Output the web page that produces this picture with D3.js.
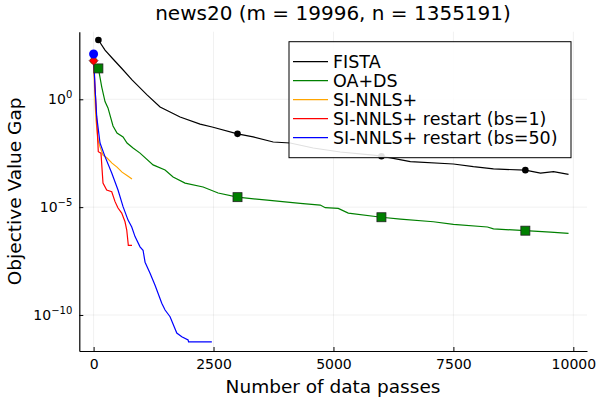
<!DOCTYPE html>
<html lang="en">
<head>
  <meta charset="utf-8">
  <title>news20</title>
  <script src="https://d3js.org/d3.v7.min.js"></script>
  <style>
    body { margin: 0; background: #fff; }
    text { font-family: "DejaVu Sans", sans-serif; fill: #000; }
  </style>
</head>
<body>
<script type="text/javascript">

// data (x = data passes, y = objective value gap)
var fistaX = [100, 238, 405, 593, 801, 1114, 1386, 1803, 2220, 2471, 3000, 3326, 3744, 4098, 4578, 5142, 5830, 6000, 6603, 7500, 7917, 8335, 9000, 9316, 9587, 9900];
var fistaY = [5.6e2, 1.9e2, 74, 26, 7.9, 1.6, 0.44, 0.15, 0.071, 0.052, 0.025, 0.018, 0.0105, 0.0094, 0.0055, 0.0036, 0.0026, 0.0023, 0.0013, 0.0010, 7.5e-4, 5.9e-4, 5.2e-4, 3.8e-4, 4.4e-4, 3.3e-4];

var oadsX = [100, 169, 238, 300, 405, 488, 614, 697, 822, 968, 1240, 1490, 1657, 1907, 2283, 2596, 3000, 3619, 4307, 4725, 4829, 5100, 5309, 6000, 6395, 7083, 7500, 8210, 8335, 9000, 9524, 9900];
var oadsY = [27, 3.8, 0.78, 0.40, 0.058, 0.027, 0.018, 0.0094, 0.0055, 0.0032, 9.1e-4, 5.3e-4, 2.5e-4, 1.3e-4, 8.6e-5, 4.5e-5, 2.9e-5, 2.1e-5, 1.5e-5, 1.25e-5, 9.4e-6, 8.8e-6, 5.3e-6, 3.4e-6, 2.8e-6, 2.1e-6, 1.6e-6, 1.2e-6, 9.8e-7, 8.1e-7, 7.0e-7, 6.1e-7];

var sinnlsX = [0, 29, 50, 92, 134, 196, 280, 384, 488, 593, 697, 800];
var sinnlsY = [62, 0.93, 0.11, 0.013, 0.0062, 0.0026, 0.0019, 0.0011, 7.2e-4, 4.2e-4, 2.9e-4, 2.0e-4];

var bs1X = [0, 29, 65, 98, 154, 196, 273, 378, 447, 509, 586, 655, 691, 724, 800];
var bs1Y = [62, 3.8, 0.11, 0.0037, 0.0032, 1.3e-4, 6.2e-5, 5.2e-5, 1.8e-5, 9.1e-6, 5.3e-6, 2.1e-6, 8.7e-7, 1.7e-7, 1.7e-7];

var bs50X = [0, 29, 65, 134, 238, 378, 509, 614, 718, 795, 864, 968, 1031, 1073, 1177, 1281, 1421, 1490, 1594, 1734, 1838, 1970, 1980, 2465];
var bs50Y = [126, 3.8, 0.156, 0.0094, 0.0022, 3.8e-4, 6.2e-5, 1.05e-5, 2.5e-6, 1.2e-6, 4.3e-7, 1.45e-7, 1.0e-7, 2.8e-8, 8.7e-9, 2.4e-9, 3.5e-10, 1.7e-10, 8.3e-11, 1.45e-11, 9.8e-12, 6.9e-12, 5.7e-12, 5.7e-12];

var seriesNames = ["FISTA", "OA+DS", "SI-NNLS+", "SI-NNLS+ restart (bs=1)", "SI-NNLS+ restart (bs=50)"];
var seriesColors = ["#000000", "#008000", "#ffa500", "#ff0000", "#0000ff"];
var markerEvery = 3000;

var xTicks = [0, 2500, 5000, 7500, 10000];
var yTicks = [1e0, 1e-5, 1e-10];
var yTickExp = ["0", "\u22125", "\u221210"];

var svg_width = 600;
var svg_height = 400;
var pLeft = 79.3, pRight = 587, pTop = 31.7, pBottom = 351;

var svg = d3.select("body")
			.append("svg")
			.attr("width", svg_width)
			.attr("height", svg_height);

var x = d3.scaleLinear().domain([-298, 10285]).range([pLeft, pRight]);
var y = d3.scaleLog().domain([Math.pow(10, -11.67), Math.pow(10, 3.134)]).range([pBottom, pTop]);

// grid
svg.selectAll("line.gx")
   .data(xTicks)
   .enter()
	   .append("line")
	   .attr("x1", function(d) { return x(d); })
	   .attr("x2", function(d) { return x(d); })
	   .attr("y1", pTop)
	   .attr("y2", pBottom)
	   .attr("stroke", "#000")
	   .attr("stroke-opacity", 0.1)
	   .attr("stroke-width", 0.6);

svg.selectAll("line.gy")
   .data(yTicks)
   .enter()
	   .append("line")
	   .attr("x1", pLeft)
	   .attr("x2", pRight)
	   .attr("y1", function(d) { return y(d); })
	   .attr("y2", function(d) { return y(d); })
	   .attr("stroke", "#000")
	   .attr("stroke-opacity", 0.1)
	   .attr("stroke-width", 0.6);

// axes
var xAxis = d3.axisBottom(x).tickValues(xTicks).tickFormat(d3.format("d"))
	.tickSizeInner(-4).tickSizeOuter(0).tickPadding(8);
var gx = svg.append("g").attr("transform", "translate(0," + pBottom + ")").call(xAxis);
gx.selectAll("text").attr("font-size", "14px").attr("font-family", "DejaVu Sans");

var yAxis = d3.axisLeft(y).tickValues(yTicks).tickSizeInner(-4).tickSizeOuter(0).tickFormat("");
var gy = svg.append("g").attr("transform", "translate(" + pLeft + ",0)").call(yAxis);
gy.select(".domain").attr("stroke-width", 1.2);
gx.select(".domain").attr("stroke-width", 1.2);

yTicks.forEach(function(t, i) {
	var lab = svg.append("text")
		.attr("x", pLeft - 7)
		.attr("y", y(t) + 5)
		.attr("text-anchor", "end")
		.attr("font-size", "14px");
	lab.append("tspan").text("10");
	lab.append("tspan").text(yTickExp[i]).attr("font-size", "10px").attr("dy", -6);
});

// series
svg.append("clipPath").attr("id", "clip")
	.append("rect").attr("x", pLeft).attr("y", pTop).attr("width", pRight - pLeft).attr("height", pBottom - pTop);

var plot = svg.append("g").attr("clip-path", "url(#clip)");
var line = d3.line()
	.x(function(d) { return x(d[0]); })
	.y(function(d) { return y(d[1]); });

var allX = [fistaX, oadsX, sinnlsX, bs1X, bs50X];
var allY = [fistaY, oadsY, sinnlsY, bs1Y, bs50Y];

function drawMarker(g, i, px, py) {
	if (i == 0) {
		g.append("circle").attr("cx", px).attr("cy", py).attr("r", 3.3).attr("fill", "#000");
	} else if (i == 1) {
		g.append("rect").attr("x", px - 4.5).attr("y", py - 4.5).attr("width", 9).attr("height", 9)
			.attr("fill", "#008000").attr("stroke", "#222").attr("stroke-width", 0.8);
	} else if (i == 2) {
		g.append("circle").attr("cx", px).attr("cy", py).attr("r", 3.5).attr("fill", "#ffa500");
	} else if (i == 3) {
		g.append("path").attr("d", "M" + px + "," + (py - 4.5) + "L" + (px + 4.5) + "," + py + "L" + px + "," + (py + 4.5) + "L" + (px - 4.5) + "," + py + "Z")
			.attr("fill", "#ff0000").attr("stroke", "#222").attr("stroke-width", 0.6);
	} else {
		g.append("circle").attr("cx", px).attr("cy", py).attr("r", 4.5).attr("fill", "#0000ff");
	}
}

allX.forEach(function(xs, i) {
	var pts = xs.map(function(v, k) { return [v, allY[i][k]]; });
	plot.append("path")
		.datum(pts)
		.attr("fill", "none")
		.attr("stroke", seriesColors[i])
		.attr("stroke-width", 1.2)
		.attr("d", line);
	var g = svg.append("g");
	pts.forEach(function(p, k) {
		if (k == 0 || p[0] % markerEvery == 0) drawMarker(g, i, x(p[0]), y(p[1]));
	});
});

// legend
var legend = svg.append("g");
legend.append("rect")
	.attr("x", 289).attr("y", 41.7).attr("width", 282).attr("height", 116)
	.attr("fill", "#fff").attr("fill-opacity", 0.88)
	.attr("stroke", "#000").attr("stroke-width", 1);
seriesNames.forEach(function(n, i) {
	var ly = 61.7 + i * 19;
	legend.append("line").attr("x1", 293).attr("x2", 328).attr("y1", ly).attr("y2", ly)
		.attr("stroke", seriesColors[i]).attr("stroke-width", 1.2);
	legend.append("text").attr("x", 333).attr("y", ly + 6).attr("font-size", "17.5px").text(n);
});

// titles
svg.append("text").attr("x", 333).attr("y", 20).attr("text-anchor", "middle")
	.attr("font-size", "20px").text("news20 (m = 19996, n = 1355191)");
svg.append("text").attr("x", 333).attr("y", 392.5).attr("text-anchor", "middle")
	.attr("font-size", "18.5px").text("Number of data passes");
svg.append("text").attr("transform", "translate(21," + ((pTop + pBottom) / 2) + ") rotate(-90)")
	.attr("text-anchor", "middle").attr("font-size", "18.5px").text("Objective Value Gap");

</script>
</body>
</html>
